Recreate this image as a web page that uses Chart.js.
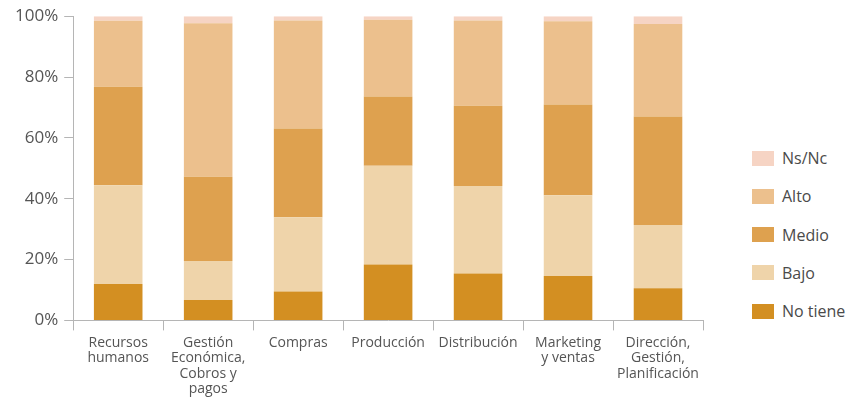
<!DOCTYPE html>
<html>
<head>
<meta charset="utf-8">
<script src="https://cdn.jsdelivr.net/npm/chart.js@4"></script>
<style>
  body { margin: 0; background: #fff; width: 857px; height: 403px; overflow: hidden; position: relative; font-family: "Open Sans", sans-serif; }
  .wrap { position: absolute; left: 0; top: 0; width: 720px; height: 403px; }
  .legend { position: absolute; left: 752px; top: 0; }
  .legend .item { position: absolute; left: 0; display: flex; align-items: center; white-space: nowrap; height: 20px; }
  .legend .box { width: 22px; height: 15px; margin-right: 8px; }
  .legend span { font-size: 16px; color: #4a4a4a; }
</style>
</head>
<body>
<div class="wrap"><canvas id="chart"></canvas></div>
<div class="legend" id="legend"></div>
<script>
const categories = [
    ["Recursos", "humanos"],
    ["Gestión", "Económica,", "Cobros y", "pagos"],
    "Compras",
    "Producción",
    "Distribución",
    ["Marketing", "y ventas"],
    ["Dirección,", "Gestión,", "Planificación"]
];

// porcentajes por nivel (de abajo arriba)
const noTiene = [12.0, 6.7, 9.5, 18.4, 15.4, 14.6, 10.6];
const bajo    = [32.4, 12.8, 24.4, 32.4, 28.8, 26.5, 20.8];
const medio   = [32.4, 27.7, 29.2, 22.8, 26.4, 29.9, 35.6];
const alto    = [21.7, 50.5, 35.5, 25.2, 28.0, 27.3, 30.4];
const nsNc    = [1.5, 2.3, 1.4, 1.2, 1.4, 1.7, 2.6];

const yTicks = [0, 20, 40, 60, 80, 100];

const series = [
    { label: "No tiene", data: noTiene, color: "#d38f22" },
    { label: "Bajo",     data: bajo,    color: "#efd4aa" },
    { label: "Medio",    data: medio,   color: "#dea14f" },
    { label: "Alto",     data: alto,    color: "#ecc08d" },
    { label: "Ns/Nc",    data: nsNc,    color: "#f6d4c4" }
];

const axisColor = "#b5b5b5";

const ctx = document.getElementById("chart").getContext("2d");
const chart = new Chart(ctx, {
    type: "bar",
    data: {
        labels: categories,
        datasets: series.map(s => ({
            label: s.label,
            data: s.data,
            backgroundColor: s.color,
            borderWidth: 0,
            barPercentage: 0.54,
            categoryPercentage: 1
        }))
    },
    options: {
        responsive: true,
        maintainAspectRatio: false,
        animation: false,
        layout: { padding: { left: 9, right: 17, top: 14, bottom: 1 } },
        plugins: {
            legend: { display: false },
            tooltip: { enabled: false }
        },
        scales: {
            x: {
                stacked: true,
                border: { color: axisColor, width: 1 },
                grid: { drawOnChartArea: false, drawTicks: true, tickLength: 10, color: axisColor },
                ticks: {
                    autoSkip: false,
                    maxRotation: 0,
                    padding: 5,
                    color: "#555",
                    font: { family: "Open Sans", size: 14, lineHeight: 1.1 }
                }
            },
            y: {
                stacked: true,
                min: 0,
                max: 100,
                border: { color: axisColor, width: 1 },
                grid: { drawOnChartArea: false, drawTicks: true, tickLength: 9, color: axisColor },
                afterBuildTicks: axis => {
                    axis.ticks = yTicks.map(v => ({ value: v }));
                },
                ticks: {
                    padding: 6,
                    color: "#555",
                    font: { family: "Open Sans", size: 17 },
                    callback: v => v + "%"
                }
            }
        }
    }
});

// leyenda a la derecha, en orden inverso
let legend = document.getElementById("legend");
series.slice().reverse().forEach((s, idx) => {
    let item = document.createElement("div");
    item.className = "item";
    item.style.top = (148 + idx * 38.3) + "px";
    item.innerHTML = `<div class="box" style="background:${s.color}"></div><span>${s.label}</span>`;
    legend.appendChild(item);
});
</script>
</body>
</html>
